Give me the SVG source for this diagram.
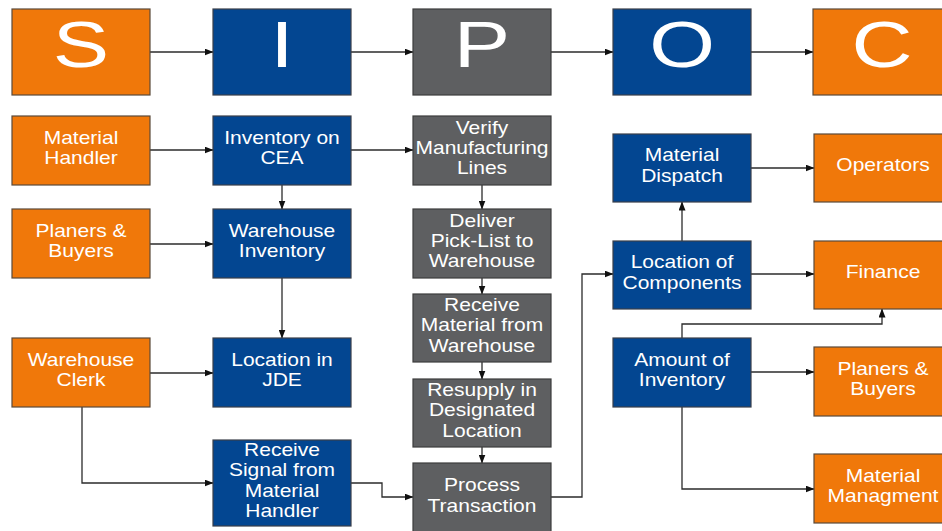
<svg xmlns="http://www.w3.org/2000/svg" width="942" height="531" viewBox="0 0 942 531">
<style>
.o{fill:#F0780A;stroke:#5a4a3a;stroke-width:1.2}
.b{fill:#034691;stroke:#3a3f4a;stroke-width:1.2}
.g{fill:#5E5F61;stroke:#3c3c3c;stroke-width:1.2}
.t{font-family:"Liberation Sans",Arial,sans-serif;font-size:17.5px;fill:#fff;text-anchor:middle}
.h{font-family:"Liberation Sans",Arial,sans-serif;font-size:65px;fill:#fff;text-anchor:middle}
.c{fill:none;stroke:#2b2b2b;stroke-width:1.3;marker-end:url(#a)}
</style>
<defs>
<marker id="a" markerWidth="9" markerHeight="7" refX="8.5" refY="3.5" orient="auto" markerUnits="userSpaceOnUse">
<path d="M0,0 L9,3.5 L0,7 z" fill="#111"/>
</marker>
</defs>
<rect width="942" height="531" fill="#fff"/>
<g id="connectors">
<path class="c" d="M150,52 H213"/>
<path class="c" d="M351,52 H413"/>
<path class="c" d="M551,52 H613"/>
<path class="c" d="M751,52 H813"/>
<path class="c" d="M150,150 H213"/>
<path class="c" d="M351,150 H413"/>
<path class="c" d="M282,185 V209"/>
<path class="c" d="M482,185 V209"/>
<path class="c" d="M150,244 H213"/>
<path class="c" d="M282,278 V338"/>
<path class="c" d="M482,278 V294"/>
<path class="c" d="M482,362 V379"/>
<path class="c" d="M482,447 V463"/>
<path class="c" d="M150,373 H213"/>
<path class="c" d="M82,407 V483 H213"/>
<path class="c" d="M351,483 H382 V497 H413"/>
<path class="c" d="M551,497 H582 V274 H613"/>
<path class="c" d="M682,241 V202"/>
<path class="c" d="M751,168 H814"/>
<path class="c" d="M751,274 H814"/>
<path class="c" d="M682,338 V324 H882 V309"/>
<path class="c" d="M751,372 H814"/>
<path class="c" d="M682,407 V489 H814"/>
</g>
<g id="hS"><rect class="o" x="12" y="9" width="138" height="86"/><text class="h" transform="translate(81 0) scale(1.3 1)" x="0" y="67">S</text></g>
<g id="hI"><rect class="b" x="213" y="9" width="138" height="86"/><text class="h" transform="translate(282 0) scale(1.3 1)" x="0" y="67">I</text></g>
<g id="hP"><rect class="g" x="413" y="9" width="138" height="86"/><text class="h" transform="translate(482 0) scale(1.3 1)" x="0" y="67">P</text></g>
<g id="hO"><rect class="b" x="613" y="9" width="138" height="86"/><text class="h" transform="translate(682 0) scale(1.3 1)" x="0" y="67">O</text></g>
<g id="hC"><rect class="o" x="813" y="9" width="138" height="86"/><text class="h" transform="translate(882 0) scale(1.3 1)" x="0" y="67">C</text></g>

<g id="s1"><rect class="o" x="12" y="116" width="138" height="69"/><text class="t" transform="translate(81 0) scale(1.2 1)"><tspan x="0" y="143.8">Material</tspan><tspan x="0" y="164.2">Handler</tspan></text></g>
<g id="s2"><rect class="o" x="12" y="209" width="138" height="69"/><text class="t" transform="translate(81 0) scale(1.2 1)"><tspan x="0" y="236.8">Planers &amp;</tspan><tspan x="0" y="257.2">Buyers</tspan></text></g>
<g id="s3"><rect class="o" x="12" y="338" width="138" height="69"/><text class="t" transform="translate(81 0) scale(1.2 1)"><tspan x="0" y="365.8">Warehouse</tspan><tspan x="0" y="386.2">Clerk</tspan></text></g>

<g id="i1"><rect class="b" x="213" y="116" width="138" height="69"/><text class="t" transform="translate(282 0) scale(1.2 1)"><tspan x="0" y="143.8">Inventory on</tspan><tspan x="0" y="164.2">CEA</tspan></text></g>
<g id="i2"><rect class="b" x="213" y="209" width="138" height="69"/><text class="t" transform="translate(282 0) scale(1.2 1)"><tspan x="0" y="236.8">Warehouse</tspan><tspan x="0" y="257.2">Inventory</tspan></text></g>
<g id="i3"><rect class="b" x="213" y="338" width="138" height="69"/><text class="t" transform="translate(282 0) scale(1.2 1)"><tspan x="0" y="365.8">Location in</tspan><tspan x="0" y="386.2">JDE</tspan></text></g>
<g id="i4"><rect class="b" x="213" y="440" width="138" height="86"/><text class="t" transform="translate(282 0) scale(1.2 1)"><tspan x="0" y="455.9">Receive</tspan><tspan x="0" y="476.3">Signal from</tspan><tspan x="0" y="496.7">Material</tspan><tspan x="0" y="517.1">Handler</tspan></text></g>

<g id="p1"><rect class="g" x="413" y="116" width="138" height="69"/><text class="t" transform="translate(482 0) scale(1.2 1)"><tspan x="0" y="133.6">Verify</tspan><tspan x="0" y="154">Manufacturing</tspan><tspan x="0" y="174.4">Lines</tspan></text></g>
<g id="p2"><rect class="g" x="413" y="209" width="138" height="69"/><text class="t" transform="translate(482 0) scale(1.2 1)"><tspan x="0" y="226.6">Deliver</tspan><tspan x="0" y="247">Pick-List to</tspan><tspan x="0" y="267.4">Warehouse</tspan></text></g>
<g id="p3"><rect class="g" x="413" y="294" width="138" height="68"/><text class="t" transform="translate(482 0) scale(1.2 1)"><tspan x="0" y="311.1">Receive</tspan><tspan x="0" y="331.5">Material from</tspan><tspan x="0" y="351.9">Warehouse</tspan></text></g>
<g id="p4"><rect class="g" x="413" y="379" width="138" height="68"/><text class="t" transform="translate(482 0) scale(1.2 1)"><tspan x="0" y="396.1">Resupply in</tspan><tspan x="0" y="416.5">Designated</tspan><tspan x="0" y="436.9">Location</tspan></text></g>
<g id="p5"><rect class="g" x="413" y="463" width="138" height="70"/><text class="t" transform="translate(482 0) scale(1.2 1)"><tspan x="0" y="491.3">Process</tspan><tspan x="0" y="511.7">Transaction</tspan></text></g>

<g id="o1"><rect class="b" x="613" y="134" width="138" height="68"/><text class="t" transform="translate(682 0) scale(1.2 1)"><tspan x="0" y="161.3">Material</tspan><tspan x="0" y="181.7">Dispatch</tspan></text></g>
<g id="o2"><rect class="b" x="613" y="241" width="138" height="68"/><text class="t" transform="translate(682 0) scale(1.2 1)"><tspan x="0" y="268.3">Location of</tspan><tspan x="0" y="288.7">Components</tspan></text></g>
<g id="o3"><rect class="b" x="613" y="338" width="138" height="69"/><text class="t" transform="translate(682 0) scale(1.2 1)"><tspan x="0" y="365.8">Amount of</tspan><tspan x="0" y="386.2">Inventory</tspan></text></g>

<g id="c1"><rect class="o" x="814" y="134" width="138" height="68"/><text class="t" transform="translate(883 0) scale(1.2 1)"><tspan x="0" y="171.5">Operators</tspan></text></g>
<g id="c2"><rect class="o" x="814" y="241" width="138" height="68"/><text class="t" transform="translate(883 0) scale(1.2 1)"><tspan x="0" y="278.5">Finance</tspan></text></g>
<g id="c3"><rect class="o" x="814" y="347" width="138" height="69"/><text class="t" transform="translate(883 0) scale(1.2 1)"><tspan x="0" y="374.8">Planers &amp;</tspan><tspan x="0" y="395.2">Buyers</tspan></text></g>
<g id="c4"><rect class="o" x="814" y="454" width="138" height="69"/><text class="t" transform="translate(883 0) scale(1.2 1)"><tspan x="0" y="481.8">Material</tspan><tspan x="0" y="502.2">Managment</tspan></text></g>
</svg>
